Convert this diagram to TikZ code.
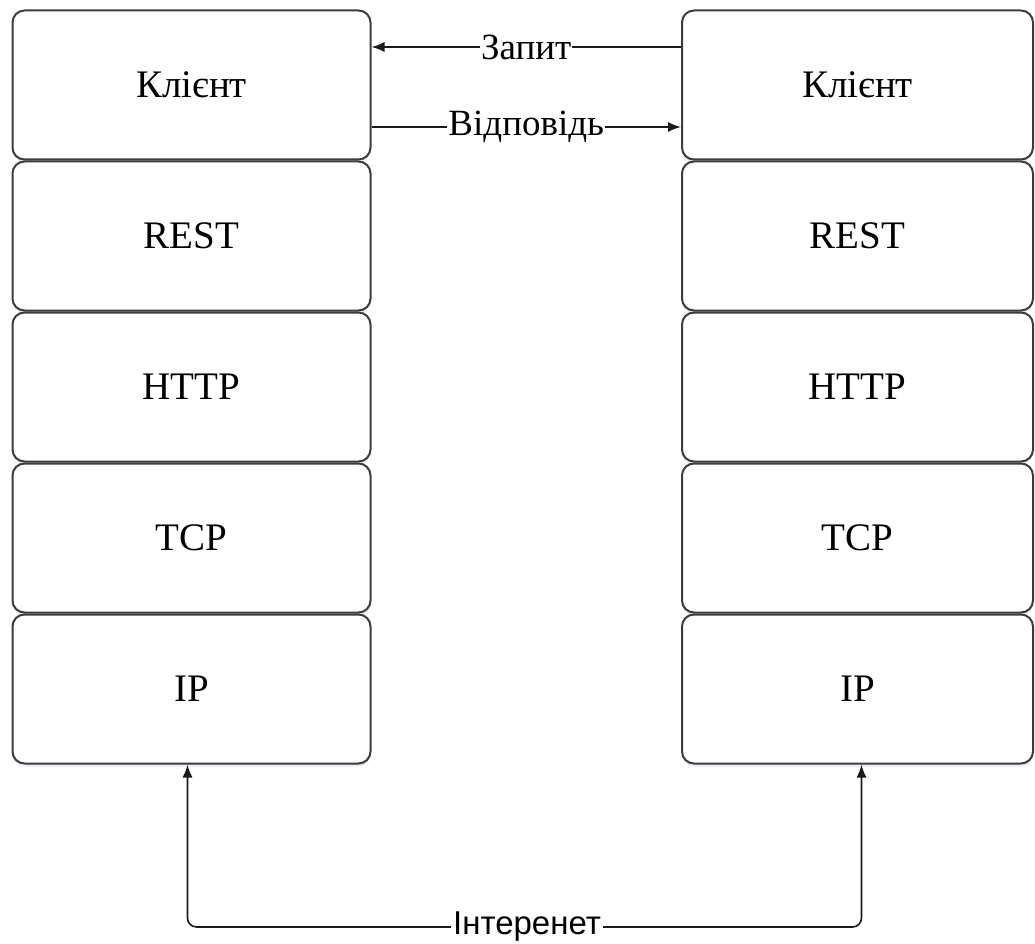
\documentclass[tikz,border=0pt]{standalone}
\usepackage{fontspec}
\setmainfont{Liberation Serif}
\newfontfamily\layerserif{Liberation Serif}
\newfontfamily\labelsans{Liberation Sans}
\usetikzlibrary{arrows.meta,shadows}

\definecolor{boxline}{HTML}{3C3C3C}
\definecolor{wireline}{HTML}{1A1A1A}

\tikzset{
  layer/.style={draw=boxline, line width=2pt, rounded corners=12pt,
    minimum width=358pt, minimum height=149pt, inner sep=0pt, fill=white,
    drop shadow={shadow xshift=0pt, shadow yshift=-3pt, opacity=0.12, fill=blue!30!gray},
    font=\layerserif\fontsize{39}{42}\selectfont},
  wire/.style={draw=wireline, line width=1.6pt, -{Latex[length=13pt,width=10pt]}},
  wirelabel/.style={fill=white, inner sep=1pt, font=\layerserif\fontsize{37}{40}\selectfont},
  netlabel/.style={fill=white, inner sep=2pt, font=\labelsans\fontsize{33}{36}\selectfont}
}

\begin{document}
\begin{tikzpicture}[x=1pt, y=-1pt]
  \useasboundingbox (0,0) rectangle (1035,944);

  % left protocol stack
  \node[layer] (l1) at (191.5, 85)  {Клієнт};
  \node[layer] (l2) at (191.5, 236) {REST};
  \node[layer] (l3) at (191.5, 387) {HTTP};
  \node[layer] (l4) at (191.5, 538) {TCP};
  \node[layer] (l5) at (191.5, 689) {IP};

  % right protocol stack
  \node[layer, minimum width=351pt] (r1) at (857.5, 85)  {Клієнт};
  \node[layer, minimum width=351pt] (r2) at (857.5, 236) {REST};
  \node[layer, minimum width=351pt] (r3) at (857.5, 387) {HTTP};
  \node[layer, minimum width=351pt] (r4) at (857.5, 538) {TCP};
  \node[layer, minimum width=351pt] (r5) at (857.5, 689) {IP};

  % request / response between the client layers
  \draw[wire] ([yshift=38pt]r1.west) -- node[wirelabel] {Запит} ([yshift=38pt]l1.east);
  \draw[wire] ([yshift=-42pt]l1.east) -- node[wirelabel] {Відповідь} ([yshift=-42pt]r1.west);

  % internet link between the IP layers
  \coordinate (net) at (527, 927);
  \draw[wire, {Latex[length=13pt,width=10pt]}-{Latex[length=13pt,width=10pt]}, rounded corners=9pt]
    ([xshift=-4pt]l5.south) |- (net) -| ([xshift=4pt]r5.south);
  \node[netlabel] at (net) {Інтеренет};
\end{tikzpicture}
\end{document}
